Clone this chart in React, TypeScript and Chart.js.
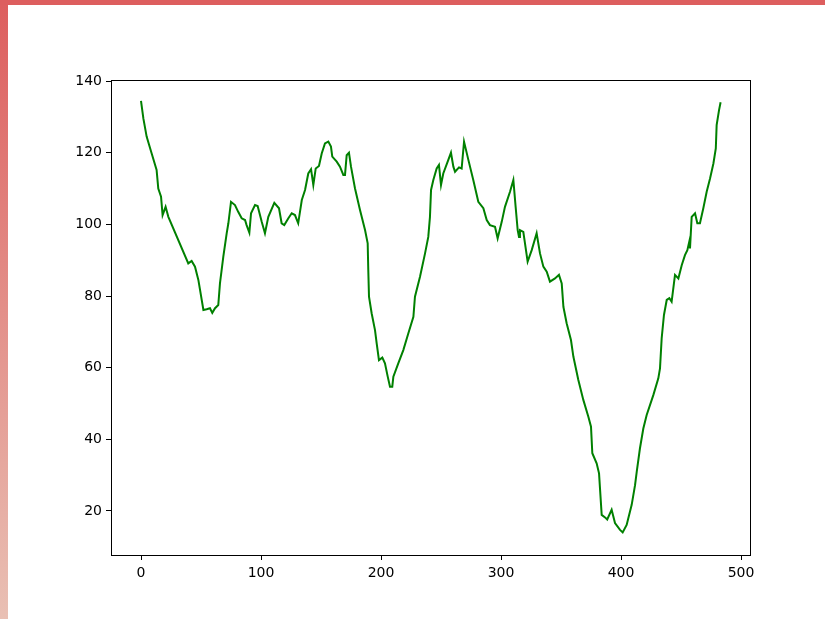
import React, { useEffect, useRef } from "react";
import { Chart, registerables } from "chart.js";

Chart.register(...registerables);

const xs: number[] = [
  0, 2, 4.7, 8.9, 13, 14.4, 16.7, 18, 20.5, 22.8, 39.4, 42.2, 45, 47.8, 49.2, 52, 54.7, 57.5, 59.4, 61.7,
  64.4, 65.8, 68.6, 71.4, 72.8, 75, 78.3, 81, 83.9, 86.7, 88, 90.3, 91.7, 95, 97.2, 100.6, 103.3, 106.1,
  111.1, 115, 117.2, 119.4, 122.8, 125.6, 128.3, 131, 134, 136.7, 139.4, 141.7, 143.6, 145.6, 148.3,
  150.6, 153.3, 156.1, 158.3, 159.4, 163.1, 165.8, 168.6, 170, 171.4, 173.3, 175, 178.3, 182.5, 186.7,
  188.9, 189.4, 190, 192.2, 195, 196.4, 198.3, 201.1, 203.3, 205.6, 207.5, 209.4, 210.3, 214.4, 218.6,
  222.8, 227, 228.3, 232.5, 236.7, 239.4, 240.8, 241.7, 243.6, 246.4, 248.3, 250, 251.9, 256.1, 258.3,
  260.3, 261.7, 265, 267.2, 269.2, 272.8, 276.9, 281.1, 285.3, 288.1, 290.8, 295, 297.2, 300.6, 303.3,
  307.5, 310.3, 312.2, 313.9, 315, 315.8, 318.6, 322.2, 325.6, 329.7, 332.5, 335.3, 338.1, 340.8, 345,
  348.3, 350.6, 352, 354.7, 358.3, 360.3, 364.4, 368.6, 372.8, 375, 376.1, 379.7, 381.7, 383.9, 386.7,
  388.5, 392.2, 395, 399.2, 401.4, 404.7, 408.9, 411.7, 413.1, 415.8, 418.6, 421.4, 427, 431.1, 432.5,
  433.9, 435.8, 438.1, 440.3, 442.2, 445, 447.8, 450.6, 453.3, 455.3, 456.9, 457.5, 458.9, 461.7, 463.6,
  465.8, 468.6, 471.4, 474.2, 477, 479, 479.7, 481.7, 483,
];

const ys: number[] = [
  134.5, 129.5, 124.5, 119.8, 115.2, 110, 107.7, 102.6, 104.9, 102.1, 89.1, 89.8, 88.2, 84.5, 81.7, 76.1,
  76.3, 76.6, 75.3, 76.6, 77.5, 83.5, 91, 97.5, 100.3, 106.3, 105.4, 103.5, 101.7, 101.2, 99.8, 97.7,
  103.1, 105.4, 105.1, 100.7, 97.5, 102.1, 106, 104.5, 100.3, 99.8, 101.7, 103.1, 102.6, 100.3, 106.8,
  109.6, 114.2, 115.4, 111, 115.6, 116.3, 119.8, 122.6, 123.1, 121.7, 118.9, 117.5, 116.1, 113.8, 113.8,
  119.3, 120, 116.1, 110.1, 104, 98.4, 94.7, 87.3, 79.8, 75.2, 70.5, 66.8, 62.1, 62.8, 61.2, 57.5, 54.7,
  54.7, 57.5, 61.2, 64.9, 69.6, 74.2, 79.8, 85.4, 91.9, 96.5, 102.1, 109.6, 112.4, 115.6, 116.6, 111,
  114.2, 118, 120, 116.1, 114.7, 115.9, 115.6, 123.1, 118, 112.4, 106.3, 104.5, 101.2, 99.8, 99.3, 96.1,
  100.7, 104.9, 109.1, 112.4, 104.9, 98.4, 96.5, 98.4, 97.9, 89.6, 92.8, 97.5, 91.9, 88.2, 86.8, 84,
  84.9, 85.9, 83.5, 77, 72.4, 67.7, 63.1, 56.6, 51, 46.3, 43.5, 36.1, 33.3, 30.5, 18.9, 18.2, 17.6, 20.3,
  16.6, 14.7, 14.0, 16.1, 21.7, 27.2, 30.9, 37.5, 43, 46.8, 52.4, 57, 59.8, 68.2, 74.7, 78.9, 79.4, 78.4,
  85.9, 84.9, 88.6, 91.4, 92.8, 95.2, 93.3, 102.1, 103.1, 100.3, 100.3, 104.5, 109.1, 112.8, 117, 121.2,
  127.7, 131.9, 134.1,
];

const xTicks: number[] = [0, 100, 200, 300, 400, 500];
const yTicks: number[] = [20, 40, 60, 80, 100, 120, 140];

const frame = {
  id: "frame",
  afterDraw(chart: any) {
    const { ctx, chartArea: a } = chart;
    ctx.save();
    ctx.strokeStyle = "#000";
    ctx.lineWidth = 1;
    ctx.strokeRect(Math.round(a.left) + 0.5, Math.round(a.top) + 0.5, Math.round(a.right - a.left), Math.round(a.bottom - a.top));
    ctx.restore();
  },
};

export default function App() {
  const ref = useRef<HTMLCanvasElement>(null);
  useEffect(() => {
    if (!ref.current) return;
    const font = { family: "DejaVu Sans", size: 14 };
    const chart = new Chart(ref.current, {
      type: "line",
      data: {
        datasets: [
          {
            data: xs.map((x, i) => ({ x, y: ys[i] })),
            borderColor: "#008000",
            borderWidth: 2,
            pointRadius: 0,
            tension: 0,
            fill: false,
          },
        ],
      },
      options: {
        responsive: false,
        animation: false,
        layout: { padding: { top: 80, right: 75, left: 0, bottom: 0 } },
        plugins: { legend: { display: false }, tooltip: { enabled: false } },
        scales: {
          x: {
            type: "linear",
            min: -25,
            max: 507.5,
            afterBuildTicks: (s: any) => {
              s.ticks = xTicks.map((v) => ({ value: v }));
            },
            afterFit: (s: any) => {
              s.height = 64;
            },
            border: { display: false },
            grid: { drawOnChartArea: false, drawTicks: true, tickLength: 5, color: "#000" },
            ticks: { color: "#000", font, padding: 5, maxRotation: 0 },
          },
          y: {
            type: "linear",
            min: 7.7,
            max: 140.3,
            afterBuildTicks: (s: any) => {
              s.ticks = yTicks.map((v) => ({ value: v }));
            },
            afterFit: (s: any) => {
              s.width = 111;
            },
            border: { display: false },
            grid: { drawOnChartArea: false, drawTicks: true, tickLength: 5, color: "#000" },
            ticks: { color: "#000", font, padding: 4 },
          },
        },
      },
      plugins: [frame],
    });
    return () => chart.destroy();
  }, []);

  return (
    <div style={{ position: "fixed", left: 0, top: 0, width: 825, height: 619, background: "#fff" }}>
      <canvas ref={ref} width={825} height={619} style={{ position: "absolute", left: 0, top: 0, width: 825, height: 619 }} />
      <div
        style={{
          position: "absolute",
          left: 0,
          top: 0,
          width: 8,
          height: 619,
          background: "linear-gradient(to bottom, rgb(221,94,94), rgb(233,192,180))",
        }}
      />
      <div style={{ position: "absolute", left: 0, top: 0, width: 825, height: 5, background: "rgb(221,94,94)" }} />
    </div>
  );
}
